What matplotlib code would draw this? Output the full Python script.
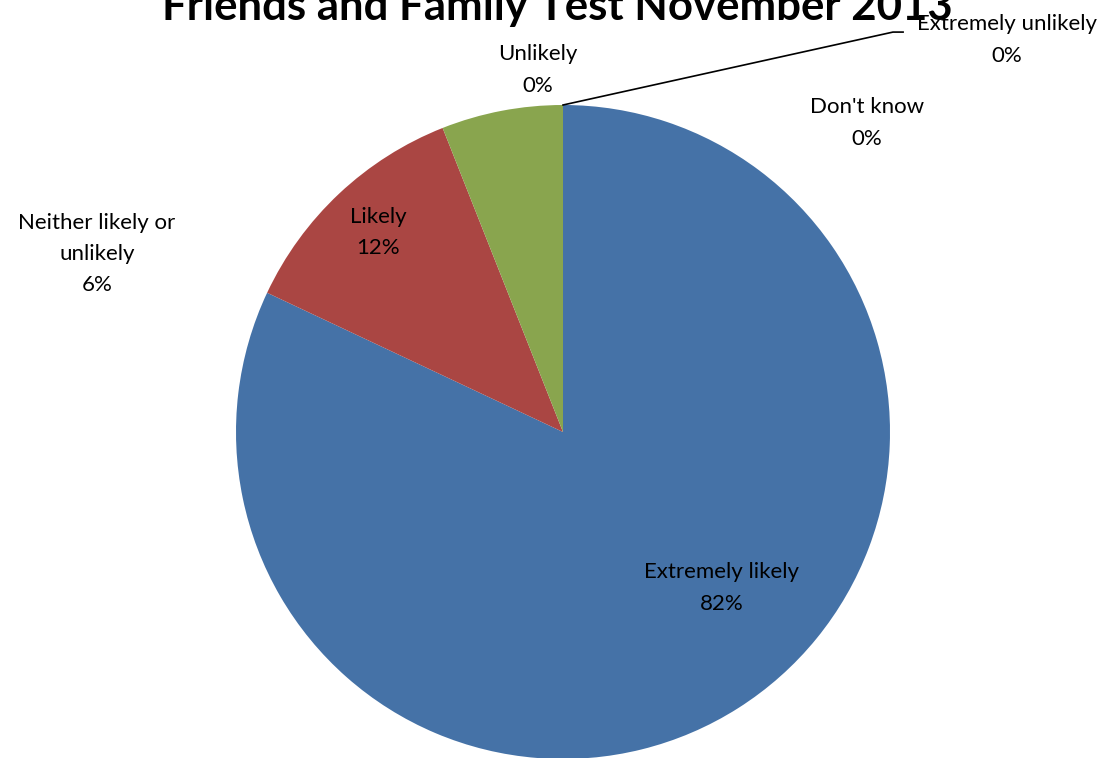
import numpy as np
import matplotlib.pyplot as plt

plt.rcParams['font.family'] = ['Lato', 'DejaVu Sans']

categories = ['Extremely likely', 'Likely', 'Neither likely or\nunlikely',
              'Unlikely', 'Extremely unlikely', "Don't know"]
values = [82, 12, 6, 0, 0, 0]
colors = ['#4572A7', '#AA4643', '#89A54E', '#71588F', '#4198AF', '#DB843D']

# label positions in pie units (radius = 1)
label_pos = [(0.486, -0.477), (-0.566, 0.609), (-1.425, 0.545),
             (-0.076, 1.107), (1.358, 1.199), (0.93, 0.945)]

fig = plt.figure(figsize=(11.08, 7.58), dpi=100)
cx, cy, r = 563, 432, 327
W, H = 1108, 758
ax = fig.add_axes([(cx - r) / W, (H - cy - r) / H, 2 * r / W, 2 * r / H])

ax.pie(values, colors=colors, startangle=90, counterclock=False,
       wedgeprops=dict(linewidth=0))
ax.set_xlim(-1, 1)
ax.set_ylim(-1, 1)
ax.set_aspect('equal')
ax.axis('off')

total = sum(values)
for name, v, (x, y) in zip(categories, values, label_pos):
    ax.text(x, y, f'{name}\n{round(100 * v / total)}%', ha='center', va='center',
            fontsize=16, linespacing=1.7, clip_on=False)

# leader line for the "Extremely unlikely" label
ax.plot([0, 1.009, 1.040], [1.0, 1.223, 1.223], color='black', lw=1.2,
        clip_on=False)

fig.text(0.503, 1 - 20 / H, 'Friends and Family Test November 2013',
         ha='center', va='baseline', fontsize=31.5, fontweight='bold')

fig.savefig('out.png', dpi=100)
